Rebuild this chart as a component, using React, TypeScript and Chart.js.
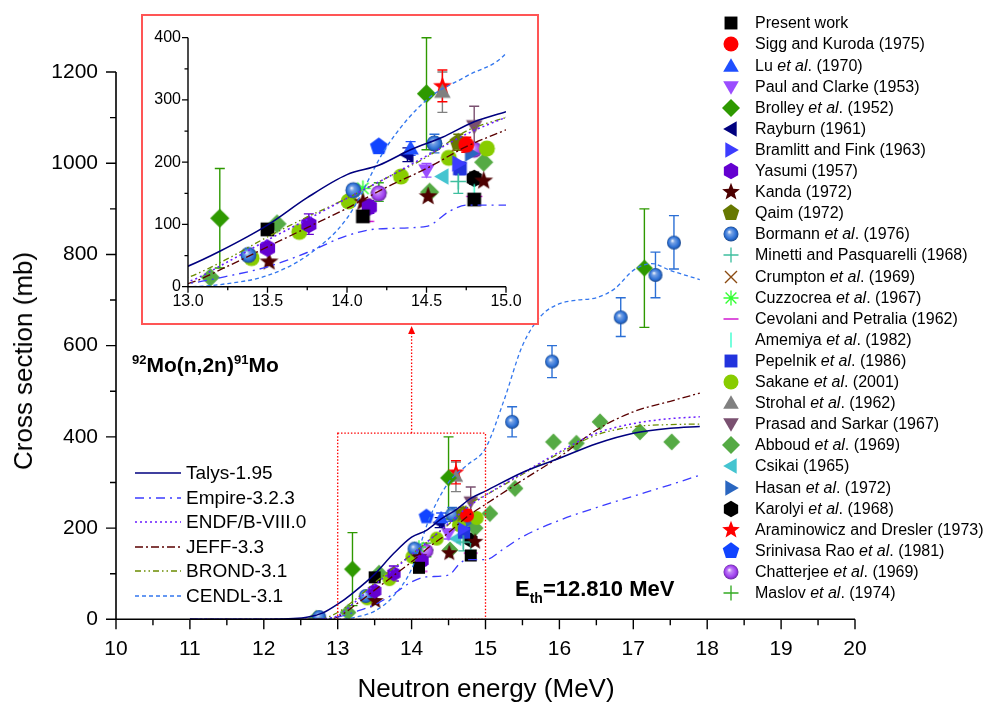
import React, { useEffect, useRef } from "react";
import { Chart, registerables } from "chart.js";
Chart.register(...registerables);

const FONT = "'Liberation Sans', Arial, Helvetica, sans-serif";

// ---------- theory curves (neutron energy in MeV, cross section in mb)
const talysE = [11, 12, 12.4, 12.6, 12.8, 13, 13.2, 13.5, 13.75, 14, 14.2, 14.4, 14.6, 14.8, 15, 15.5, 16, 16.5, 17, 17.5, 17.9];
const talysXS = [0, 0.2, 1.5, 5, 14, 33, 57, 99, 143, 180, 195, 220, 240, 265, 281, 322, 353, 385, 408, 419, 423];
const empireE = [11, 12.5, 12.8, 13, 13.25, 13.5, 13.75, 14, 14.2, 14.5, 14.65, 14.75, 15, 15.25, 15.5, 16, 16.5, 17, 17.5, 17.9];
const empireXS = [0, 0, 1, 5, 17, 32, 55, 82, 93, 97, 122, 131, 131, 155, 181, 217, 245, 270, 295, 316];
const evalE = [11, 12.5, 12.8, 13, 13.25, 13.5, 13.75, 14, 14.25, 14.5, 14.75, 15, 15.5, 16, 16.5, 17, 17.5, 17.9];
const endfXS = [0, 0, 1, 8, 40, 75, 108, 142, 175, 210, 245, 272, 320, 367, 408, 429, 440, 444];
const jeffXS = [0, 0, 0, 5, 33, 64, 95, 126, 160, 190, 225, 252, 305, 356, 415, 455, 478, 496];
const brondXS = [0, 0, 2, 15, 45, 80, 112, 142, 175, 208, 250, 272, 318, 364, 404, 422, 427, 428];
const cendlE = [11, 12.5, 13, 13.25, 13.5, 13.75, 14, 14.25, 14.5, 14.75, 15, 15.25, 15.5, 15.75, 16, 16.25, 16.5, 16.75, 17, 17.25, 17.5, 17.9];
const cendlXS = [0, 0, 0, 5, 18, 50, 110, 225, 300, 338, 375, 480, 600, 665, 692, 700, 705, 725, 765, 780, 765, 745];

// ---------- experimental data: [energy, cross section, errLow?, errHigh?]
type Pt = number[];
const presentWork: Pt[] = [[13.5, 92, 86, 98], [14.1, 113, 106, 120], [14.8, 140, 133, 147]];
const siggKuroda: Pt[] = [[14.75, 228, 216, 240]];
const luEtAl: Pt[] = [[14.4, 222, 211, 233]];
const paulClarke: Pt[] = [[14.5, 187, 176, 198]];
const brolley: Pt[] = [[13.2, 110, 30, 190], [14.5, 310, 220, 400], [17.15, 770, 640, 900]];
const rayburn: Pt[] = [[14.38, 212, 201, 223]];
const bramlittFink: Pt[] = [[14.7, 198]];
const yasumi: Pt[] = [[13.5, 62], [13.76, 100, 84, 117], [14.14, 128, 118, 138]];
const kanda: Pt[] = [[13.51, 40], [14.1, 136], [14.51, 145], [14.86, 170]];
const qaim: Pt[] = [[14.7, 232, 219, 245]];
const bormann: Pt[] = [[12.75, 5], [13.38, 51], [14.04, 155], [14.55, 230, 215, 245], [15.36, 433, 400, 466], [15.9, 565, 530, 600], [16.83, 662, 620, 705], [17.3, 755, 705, 805], [17.55, 826, 768, 885]];
const minetti: Pt[] = [[14.7, 169, 150, 188]];
const crumpton: Pt[] = [[14.7, 228]];
const cuzzocrea: Pt[] = [[14.1, 158]];
const cevolani: Pt[] = [[14.12, 105], [14.8, 145]];
const amemiya: Pt[] = [[14.8, 152]];
const pepelnik: Pt[] = [[14.71, 190, 180, 200]];
const sakane: Pt[] = [[13.4, 46], [13.7, 88], [14.01, 137], [14.34, 177], [14.64, 207], [14.88, 222]];
const strohal: Pt[] = [[14.6, 313, 280, 345]];
const prasadSarkar: Pt[] = [[14.8, 258, 228, 290]];
const abboud: Pt[] = [[12.71, 2], [13.14, 15], [13.56, 101], [14.52, 152], [14.86, 200], [15.06, 232], [15.4, 287], [15.92, 389], [16.23, 386], [16.55, 433], [17.09, 411], [17.52, 389]];
const csikai: Pt[] = [[14.6, 177]];
const hasan: Pt[] = [[14.78, 214]];
const karolyi: Pt[] = [[14.8, 174, 165, 184]];
const araminowicz: Pt[] = [[14.6, 322, 297, 348]];
const srinivasaRao: Pt[] = [[14.2, 225]];
const chatterjee: Pt[] = [[14.2, 150], [14.8, 220]];
const maslov: Pt[] = [[14.2, 152, 137, 167]];

const curves = [
  { label: "Talys-1.95", e: talysE, xs: talysXS, color: "#00007f", dash: [] as number[], width: 1.5 },
  { label: "Empire-3.2.3", e: empireE, xs: empireXS, color: "#3b3bff", dash: [9, 5, 2, 5], width: 1.3 },
  { label: "ENDF/B-VIII.0", e: evalE, xs: endfXS, color: "#6a1cff", dash: [2, 3], width: 1.5 },
  { label: "JEFF-3.3", e: evalE, xs: jeffXS, color: "#5a0000", dash: [8, 3, 2, 3], width: 1.3 },
  { label: "BROND-3.1", e: evalE, xs: brondXS, color: "#6b8c00", dash: [6, 3, 1.5, 3, 1.5, 3], width: 1.3 },
  { label: "CENDL-3.1", e: cendlE, xs: cendlXS, color: "#3377ee", dash: [4, 3], width: 1.3 },
];

const expSeries = [
  { label: "Present work", shape: "square", color: "#000000", data: presentWork },
  { label: "Sigg and Kuroda (1975)", shape: "circle", color: "#ff0000", data: siggKuroda },
  { label: "Lu et al. (1970)", shape: "triUp", color: "#1f4fff", data: luEtAl },
  { label: "Paul and Clarke (1953)", shape: "triDown", color: "#9b4dff", data: paulClarke },
  { label: "Brolley et al. (1952)", shape: "diamond", color: "#2e9900", data: brolley },
  { label: "Rayburn (1961)", shape: "triLeft", color: "#00007f", data: rayburn },
  { label: "Bramlitt and Fink (1963)", shape: "triRight", color: "#3c3cff", data: bramlittFink },
  { label: "Yasumi (1957)", shape: "hex", color: "#6400d0", data: yasumi },
  { label: "Kanda (1972)", shape: "star", color: "#4d0000", data: kanda },
  { label: "Qaim (1972)", shape: "pent", color: "#667800", data: qaim },
  { label: "Bormann et al. (1976)", shape: "sphere", color: "#2b6fd5", data: bormann },
  { label: "Minetti and Pasquarelli (1968)", shape: "plus", color: "#3fbf9f", data: minetti },
  { label: "Crumpton et al. (1969)", shape: "x", color: "#8a4a10", data: crumpton },
  { label: "Cuzzocrea et al. (1967)", shape: "asterisk", color: "#33ff33", data: cuzzocrea },
  { label: "Cevolani and Petralia (1962)", shape: "dash", color: "#cc00cc", data: cevolani },
  { label: "Amemiya et al. (1982)", shape: "vbar", color: "#33ffcc", data: amemiya },
  { label: "Pepelnik et al. (1986)", shape: "square", color: "#2233dd", data: pepelnik },
  { label: "Sakane et al. (2001)", shape: "circle", color: "#88cc00", data: sakane },
  { label: "Strohal et al. (1962)", shape: "triUp", color: "#808080", data: strohal },
  { label: "Prasad and Sarkar (1967)", shape: "triDown", color: "#7a5070", data: prasadSarkar },
  { label: "Abboud et al. (1969)", shape: "diamond", color: "#55aa44", data: abboud },
  { label: "Csikai (1965)", shape: "triLeft", color: "#44c4d0", data: csikai },
  { label: "Hasan et al. (1972)", shape: "triRight", color: "#2a66c0", data: hasan },
  { label: "Karolyi et al. (1968)", shape: "hex", color: "#000000", data: karolyi },
  { label: "Araminowicz and Dresler (1973)", shape: "star", color: "#ff0000", data: araminowicz },
  { label: "Srinivasa Rao et al. (1981)", shape: "pent", color: "#1144ff", data: srinivasaRao },
  { label: "Chatterjee et al. (1969)", shape: "sphere", color: "#a040f0", data: chatterjee },
  { label: "Maslov et al. (1974)", shape: "plus", color: "#33aa22", data: maslov },
];

// ---------- marker painting
function shade(hex: string, f: number): string {
  const n = parseInt(hex.slice(1), 16);
  let r = (n >> 16) & 255, g = (n >> 8) & 255, b = n & 255;
  if (f >= 0) { r += (255 - r) * f; g += (255 - g) * f; b += (255 - b) * f; }
  else { r *= 1 + f; g *= 1 + f; b *= 1 + f; }
  return `rgb(${Math.round(r)},${Math.round(g)},${Math.round(b)})`;
}

function paintMarker(ctx: CanvasRenderingContext2D, shape: string, color: string, s: number, cx: number, cy: number) {
  ctx.save();
  ctx.translate(cx, cy);
  ctx.fillStyle = color;
  ctx.strokeStyle = color;
  ctx.lineWidth = Math.max(1.2, s * 0.09);
  const poly = (n: number, r: number, rot: number) => {
    ctx.beginPath();
    for (let i = 0; i < n; i++) {
      const a = rot + (i * 2 * Math.PI) / n;
      const px = r * Math.cos(a), py = r * Math.sin(a);
      if (i === 0) ctx.moveTo(px, py); else ctx.lineTo(px, py);
    }
    ctx.closePath();
    ctx.fill();
  };
  const seg = (x1: number, y1: number, x2: number, y2: number) => { ctx.moveTo(x1, y1); ctx.lineTo(x2, y2); };
  const h = s * 0.5;
  switch (shape) {
    case "square": { const q = s * 0.43; ctx.fillRect(-q, -q, 2 * q, 2 * q); break; }
    case "circle": ctx.beginPath(); ctx.arc(0, 0, s * 0.5, 0, 2 * Math.PI); ctx.fill(); break;
    case "sphere": {
      const r = s * 0.5;
      const g = ctx.createRadialGradient(-r * 0.25, -r * 0.3, 0, 0, 0, r);
      g.addColorStop(0, "#ffffff");
      g.addColorStop(0.3, shade(color, 0.35));
      g.addColorStop(0.75, color);
      g.addColorStop(1, shade(color, -0.35));
      ctx.fillStyle = g;
      ctx.beginPath(); ctx.arc(0, 0, r, 0, 2 * Math.PI); ctx.fill();
      break;
    }
    case "triUp": ctx.translate(0, s * 0.08); poly(3, s * 0.6, -Math.PI / 2); break;
    case "triDown": ctx.translate(0, -s * 0.08); poly(3, s * 0.6, Math.PI / 2); break;
    case "triLeft": ctx.translate(s * 0.08, 0); poly(3, s * 0.6, Math.PI); break;
    case "triRight": ctx.translate(-s * 0.08, 0); poly(3, s * 0.6, 0); break;
    case "diamond": poly(4, s * 0.6, -Math.PI / 2); break;
    case "hex": poly(6, s * 0.55, -Math.PI / 2); break;
    case "pent": poly(5, s * 0.58, -Math.PI / 2); break;
    case "star": {
      const ro = s * 0.62, ri = s * 0.26;
      ctx.beginPath();
      for (let i = 0; i < 10; i++) {
        const a = -Math.PI / 2 + (i * Math.PI) / 5;
        const r = i % 2 === 0 ? ro : ri;
        if (i === 0) ctx.moveTo(r * Math.cos(a), r * Math.sin(a)); else ctx.lineTo(r * Math.cos(a), r * Math.sin(a));
      }
      ctx.closePath(); ctx.fill();
      break;
    }
    case "plus": ctx.beginPath(); seg(-h, 0, h, 0); seg(0, -h, 0, h); ctx.stroke(); break;
    case "x": ctx.beginPath(); seg(-h * 0.8, -h * 0.8, h * 0.8, h * 0.8); seg(-h * 0.8, h * 0.8, h * 0.8, -h * 0.8); ctx.stroke(); break;
    case "asterisk": {
      ctx.beginPath();
      seg(-h, 0, h, 0); seg(0, -h, 0, h);
      seg(-h * 0.72, -h * 0.72, h * 0.72, h * 0.72); seg(-h * 0.72, h * 0.72, h * 0.72, -h * 0.72);
      ctx.stroke();
      break;
    }
    case "dash": ctx.beginPath(); seg(-h, 0, h, 0); ctx.stroke(); break;
    case "vbar": ctx.beginPath(); seg(0, -h, 0, h); ctx.stroke(); break;
  }
  ctx.restore();
}

function markerImage(shape: string, color: string, s: number): HTMLCanvasElement {
  const c = document.createElement("canvas");
  const d = Math.ceil(s * 1.4) + 2;
  c.width = d; c.height = d;
  paintMarker(c.getContext("2d")!, shape, color, s, d / 2, d / 2);
  return c;
}

function buildDatasets(s: number, lineScale: number) {
  const theory = curves.map((c) => ({
    label: c.label,
    data: c.e.map((e, i) => ({ x: e, y: c.xs[i] })),
    showLine: true,
    borderColor: c.color,
    backgroundColor: c.color,
    borderWidth: c.width * lineScale,
    borderDash: c.dash,
    pointRadius: 0,
    cubicInterpolationMode: "monotone" as const,
    fill: false,
  }));
  const exp = expSeries.map((sr) => ({
    label: sr.label,
    data: sr.data.map((p) => ({ x: p[0], y: p[1] })),
    errs: sr.data.map((p) => (p.length >= 4 ? [p[2], p[3]] : null)),
    errColor: sr.color,
    showLine: false,
    pointStyle: markerImage(sr.shape, sr.color, s),
    pointRadius: s / 2,
    borderWidth: 0,
  }));
  return [...theory, ...exp];
}

// ---------- plugins
const errorBars = {
  id: "errorBars",
  beforeDatasetsDraw(chart: any, _a: any, o: any) {
    const { ctx, chartArea: ca } = chart;
    const xs = chart.scales.x, ys = chart.scales.y;
    ctx.save();
    ctx.beginPath();
    ctx.rect(ca.left, ca.top - 2, ca.right - ca.left, ca.bottom - ca.top + 4);
    ctx.clip();
    ctx.lineWidth = o.lw;
    chart.data.datasets.forEach((ds: any) => {
      if (!ds.errs) return;
      ds.errs.forEach((e: number[] | null, i: number) => {
        if (!e) return;
        const px = xs.getPixelForValue(ds.data[i].x);
        if (px < ca.left - 2 || px > ca.right + 2) return;
        const lo = ys.getPixelForValue(e[0]);
        const hi = ys.getPixelForValue(e[1]);
        ctx.strokeStyle = ds.errColor;
        ctx.beginPath();
        ctx.moveTo(px, lo); ctx.lineTo(px, hi);
        ctx.moveTo(px - o.cap, lo); ctx.lineTo(px + o.cap, lo);
        ctx.moveTo(px - o.cap, hi); ctx.lineTo(px + o.cap, hi);
        ctx.stroke();
      });
    });
    ctx.restore();
  },
};

const isMult = (v: number, m: number) => Math.abs(v / m - Math.round(v / m)) < 1e-6;

const axesTicks = {
  id: "axesTicks",
  afterDraw(chart: any, _a: any, o: any) {
    const { ctx, chartArea: ca } = chart;
    const xs = chart.scales.x, ys = chart.scales.y;
    ctx.save();
    ctx.strokeStyle = "#000";
    ctx.lineWidth = o.lw;
    ctx.beginPath();
    ctx.moveTo(ca.left, ca.top); ctx.lineTo(ca.left, ca.bottom); ctx.lineTo(ca.right, ca.bottom);
    ctx.stroke();
    ctx.lineWidth = o.tw;
    ctx.beginPath();
    xs.ticks.forEach((t: any) => {
      const px = xs.getPixelForValue(t.value);
      const len = isMult(t.value, o.xMajor) ? o.major : o.minor;
      ctx.moveTo(px, ca.bottom); ctx.lineTo(px, ca.bottom + len);
    });
    ys.ticks.forEach((t: any) => {
      const py = ys.getPixelForValue(t.value);
      const len = isMult(t.value, o.yMajor) ? o.major : o.minor;
      ctx.moveTo(ca.left, py); ctx.lineTo(ca.left - len, py);
    });
    ctx.stroke();
    ctx.restore();
  },
};

const zoomBox = {
  id: "zoomBox",
  afterDatasetsDraw(chart: any, _a: any, o: any) {
    const { ctx } = chart;
    const xs = chart.scales.x, ys = chart.scales.y;
    const l = xs.getPixelForValue(o.x0), r = xs.getPixelForValue(o.x1);
    const t = ys.getPixelForValue(o.y1), b = ys.getPixelForValue(o.y0);
    const ax = xs.getPixelForValue(o.xArrow);
    ctx.save();
    ctx.strokeStyle = "#ff0000";
    ctx.lineWidth = 1.3;
    ctx.setLineDash([1.5, 1.8]);
    ctx.strokeRect(l, t, r - l, b - t);
    ctx.beginPath();
    ctx.moveTo(ax, t); ctx.lineTo(ax, o.tip + 6);
    ctx.stroke();
    ctx.setLineDash([]);
    ctx.fillStyle = "#ff0000";
    ctx.beginPath();
    ctx.moveTo(ax, o.tip); ctx.lineTo(ax - 3.5, o.tip + 8); ctx.lineTo(ax + 3.5, o.tip + 8); ctx.closePath();
    ctx.fill();
    ctx.restore();
  },
};

function splitLabel(label: string) {
  const i = label.indexOf("et al.");
  if (i < 0) return <>{label}</>;
  return (
    <>
      {label.slice(0, i)}
      <i>et al</i>
      {label.slice(i + 5)}
    </>
  );
}

export default function App() {
  const mainRef = useRef<HTMLCanvasElement>(null);
  const insetRef = useRef<HTMLCanvasElement>(null);

  useEffect(() => {
    document.body.style.margin = "0";
    Chart.defaults.font.family = FONT;
    Chart.defaults.color = "#000";

    const main = new Chart(mainRef.current!, {
      type: "scatter",
      data: { datasets: buildDatasets(14, 1) as any },
      options: {
        responsive: false,
        animation: false,
        events: [],
        layout: { padding: { left: 0, top: 72, right: 134, bottom: 0 } },
        plugins: {
          legend: { display: false },
          tooltip: { enabled: false },
          errorBars: { lw: 1.4, cap: 5 },
          axesTicks: { lw: 1.6, tw: 1.4, major: 10, minor: 6, xMajor: 1, yMajor: 200 },
          zoomBox: { x0: 13, x1: 15, y0: 0, y1: 408, xArrow: 14, tip: 326 },
        } as any,
        scales: {
          x: {
            type: "linear", min: 10, max: 20,
            grid: { display: false, drawTicks: false },
            border: { display: false },
            ticks: {
              stepSize: 0.5, autoSkip: false, maxRotation: 0, padding: 17, color: "#000",
              font: { size: 21, family: FONT },
              callback: (v: any) => (isMult(v, 1) ? String(Math.round(v)) : ""),
            },
            afterFit: (s: any) => { s.height = 702 - 619.3; },
          },
          y: {
            type: "linear", min: 0, max: 1200,
            grid: { display: false, drawTicks: false },
            border: { display: false },
            ticks: {
              stepSize: 100, autoSkip: false, padding: 18, color: "#000",
              font: { size: 21, family: FONT },
              callback: (v: any) => (isMult(v, 200) ? String(Math.round(v)) : ""),
            },
            afterFit: (s: any) => { s.width = 116; },
          },
        },
      },
      plugins: [errorBars, axesTicks, zoomBox],
    });

    const inset = new Chart(insetRef.current!, {
      type: "scatter",
      data: { datasets: buildDatasets(16, 1.05) as any },
      options: {
        responsive: false,
        animation: false,
        events: [],
        layout: { padding: { left: 0, top: 21.7, right: 31, bottom: 0 } },
        plugins: {
          legend: { display: false },
          tooltip: { enabled: false },
          errorBars: { lw: 1.4, cap: 5 },
          axesTicks: { lw: 1.4, tw: 1.3, major: 6, minor: 3.5, xMajor: 0.5, yMajor: 100 },
        } as any,
        scales: {
          x: {
            type: "linear", min: 13, max: 15,
            grid: { display: false, drawTicks: false },
            border: { display: false },
            ticks: {
              stepSize: 0.25, autoSkip: false, maxRotation: 0, padding: 5, color: "#000",
              font: { size: 16, family: FONT },
              callback: (v: any) => (isMult(v, 0.5) ? Number(v).toFixed(1) : ""),
            },
            afterFit: (s: any) => { s.height = 306 - 270.7; },
          },
          y: {
            type: "linear", min: 0, max: 400,
            grid: { display: false, drawTicks: false },
            border: { display: false },
            ticks: {
              stepSize: 50, autoSkip: false, padding: 7, color: "#000",
              font: { size: 16, family: FONT },
              callback: (v: any) => (isMult(v, 100) ? String(Math.round(v)) : ""),
            },
            afterFit: (s: any) => { s.width = 45; },
          },
        },
      },
      plugins: [errorBars, axesTicks],
    });

    return () => {
      main.destroy();
      inset.destroy();
    };
  }, []);

  const legendTop = 23.3;
  const legendStep = 21.1;
  const lineTop = 473.3;
  const lineStep = 24.5;

  return (
    <div style={{ position: "relative", width: 989, height: 702, background: "#fff", fontFamily: FONT, overflow: "hidden", color: "#000" }}>
      <canvas ref={mainRef} width={989} height={702} style={{ position: "absolute", left: 0, top: 0 }} />

      {/* axis titles */}
      <div style={{ position: "absolute", left: 486, top: 687.5, transform: "translate(-50%,-50%)", fontSize: 26, lineHeight: 1, whiteSpace: "nowrap" }}>
        Neutron energy (MeV)
      </div>
      <div style={{ position: "absolute", left: 23, top: 361, transform: "translate(-50%,-50%) rotate(-90deg)", fontSize: 26, lineHeight: 1, whiteSpace: "nowrap" }}>
        Cross section (mb)
      </div>

      {/* reaction label */}
      <div style={{ position: "absolute", left: 132, top: 354, fontSize: 21, fontWeight: "bold", lineHeight: 1, whiteSpace: "nowrap" }}>
        <span style={{ fontSize: 13, position: "relative", top: -8 }}>92</span>Mo(n,2n)
        <span style={{ fontSize: 13, position: "relative", top: -8 }}>91</span>Mo
      </div>
      <div style={{ position: "absolute", left: 515, top: 577.5, fontSize: 22, fontWeight: "bold", lineHeight: 1, whiteSpace: "nowrap" }}>
        E<span style={{ fontSize: 14, position: "relative", top: 7 }}>th</span>=12.810 MeV
      </div>

      {/* theory legend */}
      {curves.map((c, i) => (
        <div key={c.label} style={{ position: "absolute", left: 135, top: lineTop + i * lineStep - 12, height: 24, display: "flex", alignItems: "center", whiteSpace: "nowrap" }}>
          <canvas
            width={46}
            height={10}
            style={{ width: 46, height: 10 }}
            ref={(el) => {
              if (el) {
                const ctx = el.getContext("2d")!;
                ctx.clearRect(0, 0, 46, 10);
                ctx.strokeStyle = c.color;
                ctx.lineWidth = c.width;
                ctx.setLineDash(c.dash);
                ctx.beginPath(); ctx.moveTo(0, 5); ctx.lineTo(46, 5); ctx.stroke();
              }
            }}
          />
          <span style={{ fontSize: 19, marginLeft: 5 }}>{c.label}</span>
        </div>
      ))}

      {/* experimental legend */}
      {expSeries.map((sr, i) => (
        <div key={sr.label} style={{ position: "absolute", left: 720, top: legendTop + i * legendStep - 11, height: 22, display: "flex", alignItems: "center", whiteSpace: "nowrap" }}>
          <canvas
            width={22}
            height={22}
            style={{ width: 22, height: 22 }}
            ref={(el) => {
              if (el) {
                const ctx = el.getContext("2d")!;
                ctx.clearRect(0, 0, 22, 22);
                paintMarker(ctx, sr.shape, sr.color, 15, 11, 11);
              }
            }}
          />
          <span style={{ fontSize: 16, marginLeft: 13 }}>{splitLabel(sr.label)}</span>
        </div>
      ))}

      {/* inset */}
      <div style={{ position: "absolute", left: 141, top: 14, width: 398, height: 310.5, boxSizing: "border-box", border: "2px solid #ff5555", background: "#fff" }}>
        <canvas ref={insetRef} width={394} height={306} style={{ position: "absolute", left: 0, top: 0 }} />
      </div>
    </div>
  );
}
